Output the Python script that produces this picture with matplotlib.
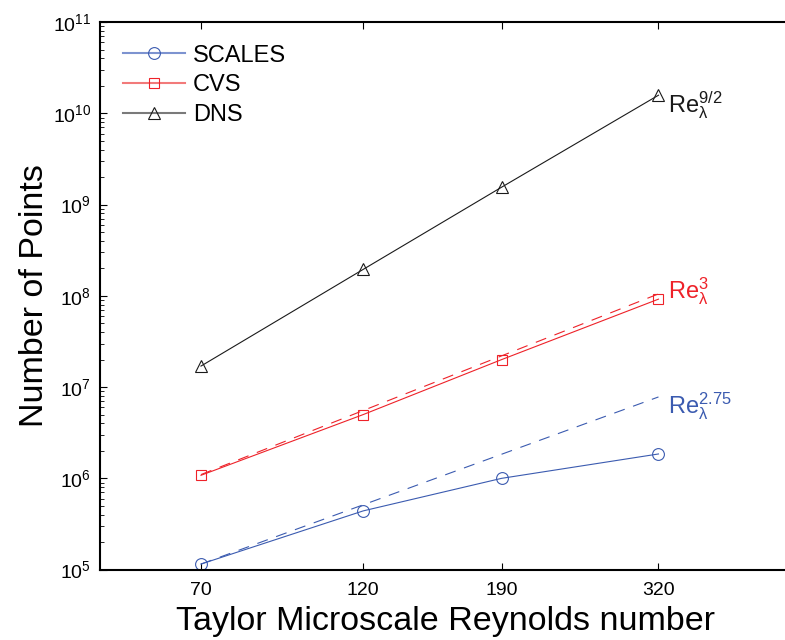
import matplotlib
matplotlib.use("Agg")
import matplotlib.pyplot as plt
from matplotlib.lines import Line2D
from matplotlib.ticker import FixedLocator, FixedFormatter, NullLocator

plt.rcParams['font.family'] = ['Liberation Sans', 'DejaVu Sans']
plt.rcParams['mathtext.fontset'] = 'custom'
plt.rcParams['mathtext.rm'] = 'Liberation Sans'
plt.rcParams['mathtext.it'] = 'Liberation Sans'
plt.rcParams['mathtext.bf'] = 'Liberation Sans:bold'

# Taylor microscale Reynolds numbers
re_lambda = [70, 120, 190, 320]

# number of points for each method
scales_pts = [1.15e5, 4.4e5, 1.0e6, 1.85e6]
cvs_pts = [1.08e6, 5.0e6, 2.0e7, 9.2e7]
dns_pts = [1.7e7, 1.95e8, 1.55e9, 1.58e10]

# reference scaling lines (dashed)
fit_re = [70, 320]
scales_fit = [1.15e5, 7.8e6]
cvs_fit = [1.1e6, 1.05e8]

blue = '#3b5bb0'
red = '#ee2229'
black = '#1a1a1a'

fig = plt.figure(figsize=(7.85, 6.4), dpi=100)
# axes runs past the right edge of the figure, as in the original
ax = fig.add_axes([0.127, 0.110, 0.898, 0.8555])

# dashed scaling lines
ax.plot(fit_re, scales_fit, color=blue, lw=0.8, dashes=(10, 8))
ax.plot(fit_re, cvs_fit, color=red, lw=0.8, dashes=(10, 8))

# data lines
ax.plot(re_lambda, scales_pts, '-o', color=blue, lw=0.8, ms=8.5, mfc='none', mew=0.8)
ax.plot(re_lambda, cvs_pts, '-s', color=red, lw=0.8, ms=7.5, mfc='none', mew=0.8)
ax.plot(re_lambda, dns_pts, '-^', color=black, lw=0.8, ms=8.5, mfc='none', mew=0.8)

ax.set_xscale('log')
ax.set_yscale('log')
ax.set_xlim(50, 520)
ax.set_ylim(1e5, 1e11)

ax.xaxis.set_major_locator(FixedLocator(re_lambda))
ax.xaxis.set_major_formatter(FixedFormatter([str(r) for r in re_lambda]))
ax.xaxis.set_minor_locator(NullLocator())

ax.tick_params(which='both', direction='in', top=True, right=False)
ax.tick_params(which='major', length=5, width=0.8, labelsize=14)
ax.tick_params(which='minor', length=3, width=0.6)
ax.tick_params(axis='x', pad=9)
ax.tick_params(axis='y', pad=6)
for sp in ax.spines.values():
    sp.set_linewidth(1.5)
ax.spines['right'].set_visible(False)

ax.set_xlabel('Taylor Microscale Reynolds number', fontsize=24.5, labelpad=5)
ax.xaxis.label.set_x(0.491)
ax.set_ylabel('Number of Points', fontsize=24.5)
ax.yaxis.set_label_coords(-0.071, 0.5)

# scaling labels
ax.text(330, 1.03e10, r'$\mathrm{Re}_{\lambda}^{9/2}$', color=black, fontsize=17, va='baseline')
ax.text(330, 9.45e7, r'$\mathrm{Re}_{\lambda}^{3}$', color=red, fontsize=17, va='baseline')
ax.text(330, 5.2e6, r'$\mathrm{Re}_{\lambda}^{2.75}$', color=blue, fontsize=17, va='baseline')

handles = [
    Line2D([], [], color='#7d93d0', lw=1.5, marker='o', ms=8.5, mfc='none', mec=blue, mew=0.8),
    Line2D([], [], color='#f27a7a', lw=1.5, marker='s', ms=7.5, mfc='none', mec=red, mew=0.8),
    Line2D([], [], color='#7a7a7a', lw=1.5, marker='^', ms=8.5, mfc='none', mec=black, mew=0.8),
]
ax.legend(handles, ['SCALES', 'CVS', 'DNS'], loc='upper left', bbox_to_anchor=(0.02, 0.976),
          frameon=False, fontsize=17, handlelength=2.6, handletextpad=0.35, labelspacing=0.32,
          borderaxespad=0.0)

fig.savefig('out.png', dpi=100)
